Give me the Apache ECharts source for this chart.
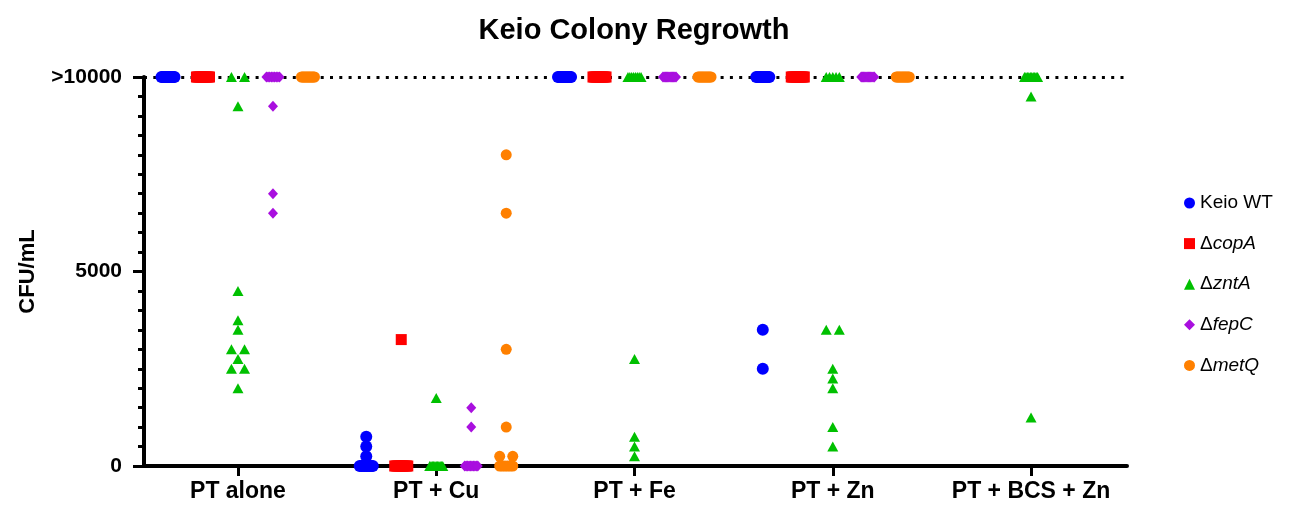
<!DOCTYPE html>
<html>
<head>
<meta charset="utf-8">
<script src="https://cdn.jsdelivr.net/npm/echarts@6/dist/echarts.min.js"></script>
<style>
  html, body { margin: 0; padding: 0; background: #fff; }
  #chart { width: 1293px; height: 509px; }
</style>
</head>
<body>
<div id="chart"></div>
<script>
// ---- Data (>10000 plotted at 10000) ----
const categories = ['PT alone', 'PT + Cu', 'PT + Fe', 'PT + Zn', 'PT + BCS + Zn'];
const strainNames = ['Keio WT', '\u0394copA', '\u0394zntA', '\u0394fepC', '\u0394metQ'];
const yTickLabels = { 0: '0', 5000: '5000', 10000: '>10000' };

const keioWT = [
  [10000, 10000, 10000, 10000, 10000, 10000, 10000, 10000, 10000, 10000, 10000, 10000],
  [750, 500, 250, 0, 0, 0, 0, 0, 0, 0, 0, 0],
  [10000, 10000, 10000, 10000, 10000, 10000, 10000, 10000, 10000, 10000, 10000, 10000],
  [3500, 2500, 10000, 10000, 10000, 10000, 10000, 10000, 10000, 10000, 10000, 10000],
  []
];
const copA = [
  [10000, 10000, 10000, 10000, 10000, 10000, 10000, 10000, 10000, 10000, 10000, 10000],
  [3250, 0, 0, 0, 0, 0, 0, 0, 0, 0, 0, 0],
  [10000, 10000, 10000, 10000, 10000, 10000, 10000, 10000, 10000, 10000, 10000, 10000],
  [10000, 10000, 10000, 10000, 10000, 10000, 10000, 10000, 10000, 10000, 10000, 10000],
  []
];
const zntA = [
  [10000, 10000, 9250, 4500, 3750, 3500, 3000, 3000, 2750, 2500, 2500, 2000],
  [1750, 0, 0, 0, 0, 0, 0, 0, 0, 0, 0, 0],
  [2750, 750, 500, 250, 10000, 10000, 10000, 10000, 10000, 10000, 10000, 10000],
  [3500, 3500, 2500, 2250, 2000, 1000, 500, 10000, 10000, 10000, 10000, 10000],
  [9500, 1250, 10000, 10000, 10000, 10000, 10000, 10000, 10000, 10000, 10000, 10000]
];
const fepC = [
  [9250, 7000, 6500, 10000, 10000, 10000, 10000, 10000, 10000, 10000, 10000, 10000],
  [1500, 1000, 0, 0, 0, 0, 0, 0, 0, 0, 0, 0],
  [10000, 10000, 10000, 10000, 10000, 10000, 10000, 10000, 10000, 10000, 10000, 10000],
  [10000, 10000, 10000, 10000, 10000, 10000, 10000, 10000, 10000, 10000, 10000, 10000],
  []
];
const metQ = [
  [10000, 10000, 10000, 10000, 10000, 10000, 10000, 10000, 10000, 10000, 10000, 10000],
  [8000, 6500, 3000, 1000, 250, 250, 0, 0, 0, 0, 0, 0],
  [10000, 10000, 10000, 10000, 10000, 10000, 10000, 10000, 10000, 10000, 10000, 10000],
  [10000, 10000, 10000, 10000, 10000, 10000, 10000, 10000, 10000, 10000, 10000, 10000],
  []
];
const strainData = [keioWT, copA, zntA, fepC, metQ];

// ---- Styling ----
const colors = ['#0000FF', '#FF0000', '#00C000', '#A90FDF', '#FF8000'];
const symbols = ['circle', 'rect', 'triangle', 'diamond', 'circle'];
const symbolSizes = [12, 11, [11, 10], [10, 11], 11];
const FONT = 'Liberation Sans, Arial, Helvetica, sans-serif';

// layout of the column scatter (in x-axis units, 1 unit = one category)
const STRAIN_OFF = 0.1765;
const SPAN = 0.066;
const MAX_STEP = 0.07;

function swarm(values, gi, si) {
  const counts = {};
  values.forEach(v => { counts[v] = (counts[v] || 0) + 1; });
  const seen = {};
  return values.map(v => {
    const n = counts[v];
    seen[v] = seen[v] === undefined ? 0 : seen[v] + 1;
    const k = seen[v];
    const step = n > 1 ? Math.min(MAX_STEP, SPAN / (n - 1)) : 0;
    return [gi + (si - 2) * STRAIN_OFF + (k - (n - 1) / 2) * step, v];
  });
}

const series = strainNames.map((name, si) => {
  let pts = [];
  strainData[si].forEach((vals, gi) => { pts = pts.concat(swarm(vals, gi, si)); });
  const s = {
    name: name,
    type: 'scatter',
    data: pts,
    symbol: symbols[si],
    symbolSize: symbolSizes[si],
    itemStyle: { color: colors[si], opacity: 1 },
    z: 3,
    silent: true
  };
  if (si === 0) {
    s.markLine = {
      silent: true,
      symbol: ['none', 'none'],
      label: { show: false },
      lineStyle: { color: '#000', width: 3, type: [3, 6.3], opacity: 1 },
      data: [{ yAxis: 10000 }],
      z: 1
    };
  }
  return s;
});

const chart = echarts.init(document.getElementById('chart'), null, { renderer: 'canvas' });
chart.setOption({
  animation: false,
  backgroundColor: '#fff',
  title: {
    text: 'Keio Colony Regrowth',
    left: 629,
    textAlign: 'center',
    top: 11,
    textStyle: { fontFamily: FONT, fontWeight: 'bold', fontSize: 29, color: '#000' }
  },
  legend: {
    orient: 'vertical',
    left: 1179,
    top: 187,
    itemWidth: 11,
    itemHeight: 11,
    itemGap: 18.6,
    data: strainNames.map((n, i) => ({ name: n, icon: symbols[i] })),
    formatter: function (name) {
      if (name.charAt(0) === '\u0394') return '{d|\u0394}{i|' + name.slice(1) + '}';
      return '{n|' + name + '}';
    },
    textStyle: {
      fontFamily: FONT, fontSize: 19, color: '#000', lineHeight: 22,
      rich: {
        n: { fontFamily: FONT, fontSize: 19, color: '#000' },
        d: { fontFamily: FONT, fontSize: 19, color: '#000' },
        i: { fontFamily: FONT, fontSize: 19, color: '#000', fontStyle: 'italic' }
      }
    }
  },
  grid: { left: 144, right: 166, top: 77, bottom: 43, containLabel: false },
  xAxis: {
    type: 'value',
    min: -0.474,
    max: 4.484,
    splitLine: { show: false },
    axisLine: { show: true, onZero: false, lineStyle: { color: '#000', width: 4 } },
    axisTick: { show: true, customValues: [0, 1, 2, 3, 4], length: 10, lineStyle: { color: '#000', width: 3 } },
    axisLabel: {
      customValues: [0, 1, 2, 3, 4],
      formatter: v => categories[Math.round(v)],
      margin: 14,
      fontFamily: FONT, fontWeight: 'bold', fontSize: 23, color: '#000'
    }
  },
  yAxis: {
    type: 'value',
    min: 0,
    max: 10000,
    interval: 5000,
    name: 'CFU/mL',
    nameLocation: 'middle',
    nameGap: 105,
    nameRotate: 90,
    nameTextStyle: { fontFamily: FONT, fontWeight: 'bold', fontSize: 22, color: '#000' },
    splitLine: { show: false },
    axisLine: { show: true, onZero: false, lineStyle: { color: '#000', width: 4 } },
    axisTick: { show: true, length: 11, lineStyle: { color: '#000', width: 3 } },
    minorTick: { show: true, splitNumber: 10, length: 6, lineStyle: { color: '#000', width: 3 } },
    axisLabel: {
      formatter: v => yTickLabels[v] !== undefined ? yTickLabels[v] : '',
      margin: 22,
      fontFamily: FONT, fontWeight: 'bold', fontSize: 21, color: '#000'
    }
  },
  series: series
});
</script>
</body>
</html>
